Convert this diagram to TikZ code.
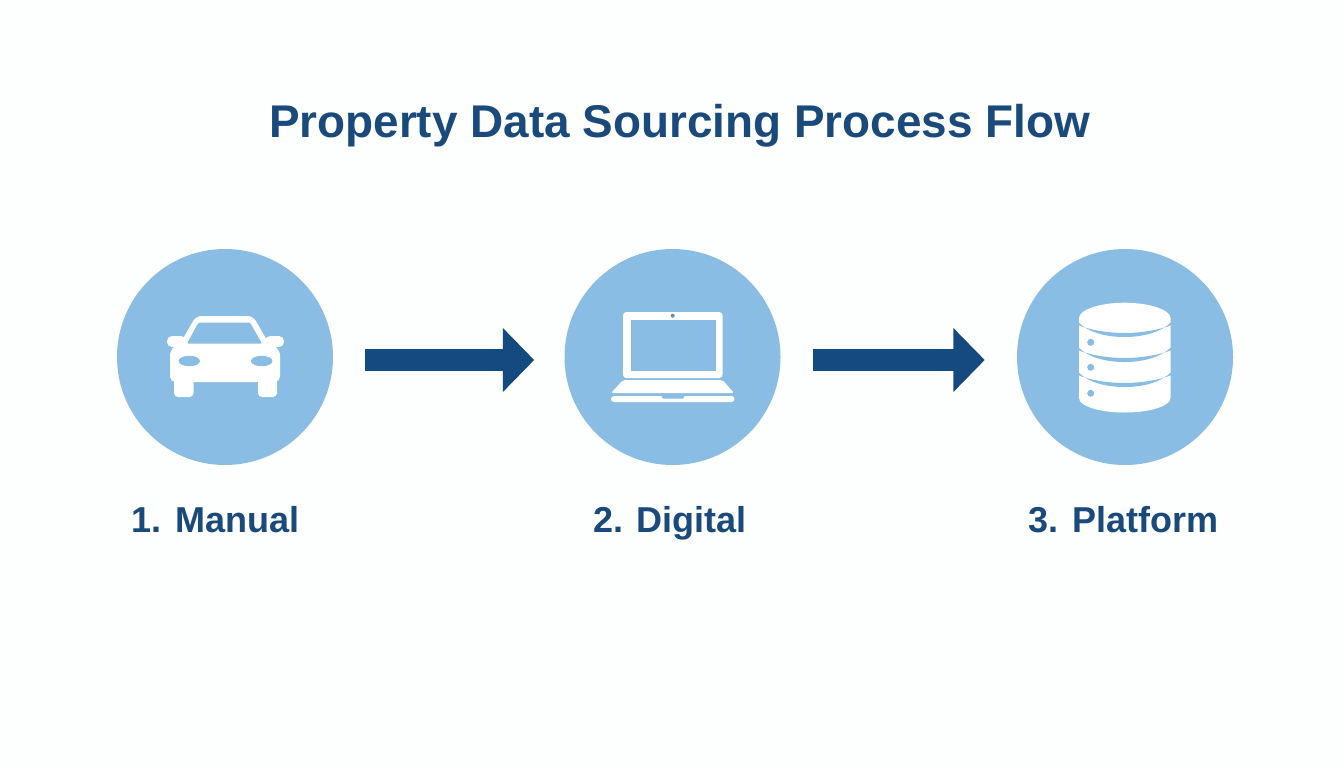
\documentclass[tikz,border=0pt]{standalone}
\usepackage{fontspec}
\setmainfont{Liberation Sans}
\usetikzlibrary{arrows.meta,calc}
\definecolor{bgc}{HTML}{FDFEFE}
\definecolor{circ}{HTML}{8ABDE3}
\definecolor{navy}{HTML}{154A80}
\definecolor{ink}{HTML}{1A4A7C}
\tikzset{
  stage/.style={circle,fill=circ,minimum size=162pt,inner sep=0pt},
  titletext/.style={font=\bfseries\fontsize{34.4pt}{40pt}\selectfont,text=ink,anchor=base,inner sep=0pt},
  stagelabel/.style={font=\bfseries\fontsize{27pt}{32pt}\selectfont,text=ink,anchor=base,inner sep=0pt},
  flow/.style={draw=navy,line width=16.5pt,-{Triangle[length=23.5pt,width=46.5pt,fill=navy]}},
  icon/.style={fill=white,draw=none},
  cut/.style={fill=circ,draw=none}
}
\begin{document}
\begin{tikzpicture}[x=0.75pt,y=-0.75pt]
\useasboundingbox (0,0) rectangle (1344,768);
\fill[bgc] (0,0) rectangle (1344,768);

\node[titletext] (title) at (679.5,137) {Property Data Sourcing Process Flow};

\node[stage] (c1) at (225,357) {};
\node[stage] (c2) at (672.5,357) {};
\node[stage] (c3) at (1125,357) {};

\node[stagelabel] (l1) at (215.5,532.5) {1. Manual};
\node[stagelabel] (l2) at (670,532.5) {2. Digital};
\node[stagelabel] (l3) at (1123.5,532.5) {3. Platform};

\coordinate (a1s) at ($(c1.east)+(32,3)$);
\coordinate (a1e) at ($(c2.west)+(-30,3)$);
\coordinate (a2s) at ($(c2.east)+(32,3)$);
\coordinate (a2e) at ($(c3.west)+(-32,3)$);
\draw[flow] (a1s) -- (a1e);
\draw[flow] (a2s) -- (a2e);

% car
\fill[icon,rounded corners=4pt] (196,316) -- (253,316) -- (268,342) -- (280,350) -- (280,382) -- (170,382) -- (170,350) -- (181,342) -- cycle;
\fill[icon,rounded corners=3pt] (174,376) rectangle (193.5,397);
\fill[icon,rounded corners=3pt] (258,376) rectangle (277,397);
\fill[icon,rounded corners=3.8pt] (167,336) rectangle (186,347);
\fill[icon,rounded corners=3.8pt] (265,336) rectangle (284,347);
\fill[cut,rounded corners=1pt] (198.5,322.5) -- (250,322.5) -- (262,343.5) -- (187,343.5) -- cycle;
\fill[cut] (189.3,361) ellipse [x radius=10.7,y radius=5.2];
\fill[cut] (261.7,361) ellipse [x radius=10.7,y radius=5.2];

% laptop
\fill[icon,rounded corners=2.5pt] (623,312) rectangle (722.5,378);
\fill[cut] (631,320) rectangle (716,371);
\fill[circ!75!black] (672.7,315.7) circle [radius=2];
\fill[icon,rounded corners=1.5pt] (623,380) -- (722.5,380) -- (734,393) -- (611,393) -- cycle;
\fill[icon,rounded corners=2.2pt] (611,396) rectangle (734.5,402);
\fill[cut] (661,395) -- (685,395) -- (683,398.7) -- (663,398.7) -- cycle;

% database
\fill[icon] (1079,318) .. controls (1079,310) and (1099,302.7) .. (1124.5,302.7)
  .. controls (1150,302.7) and (1170.5,310) .. (1170.5,318)
  -- (1170.5,398) .. controls (1170.5,406) and (1150,412.5) .. (1124.5,412.5)
  .. controls (1099,412.5) and (1079,406) .. (1079,398) -- cycle;
\foreach \yy in {322,347,372}{
  \fill[cut] (1078,\yy) .. controls (1088,{\yy+10}) and (1105,{\yy+15}) .. (1124.5,{\yy+15})
    .. controls (1144,{\yy+15}) and (1161,{\yy+10}) .. (1171.5,\yy)
    -- (1171.5,{\yy+3}) .. controls (1162,{\yy+7}) and (1144,{\yy+11}) .. (1124.5,{\yy+11})
    .. controls (1105,{\yy+11}) and (1087,{\yy+7}) .. (1078,{\yy+3}) -- cycle;
}
\fill[cut] (1090.7,342.3) circle [radius=3.5];
\fill[cut] (1090.7,367.3) circle [radius=3.5];
\fill[cut] (1090.7,393.3) circle [radius=3.5];
\end{tikzpicture}
\end{document}
